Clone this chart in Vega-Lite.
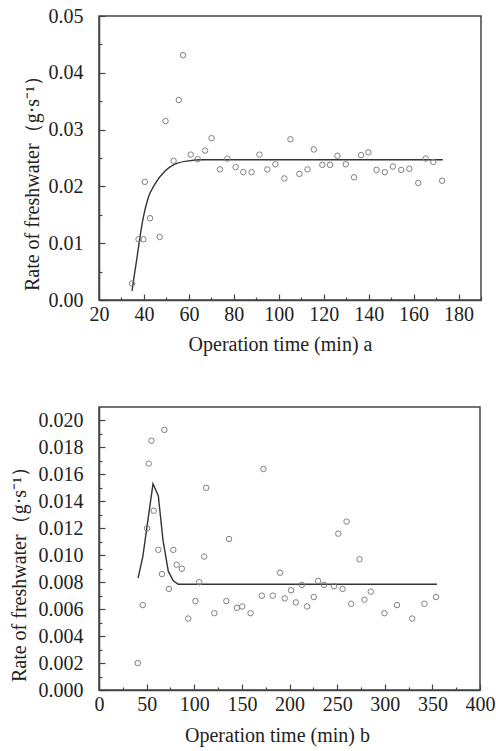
{
  "$schema": "https://vega.github.io/schema/vega-lite/v6.json",
  "padding": {"left": 8, "top": 5, "right": 5, "bottom": 5},
  "background": "white",
  "spacing": 107,
  "bounds": "flush",
  "config": {
    "view": {"stroke": "#444", "strokeWidth": 1.5},
    "axis": {
      "grid": false,
      "domainColor": "#444",
      "domainWidth": 1.5,
      "tickColor": "#444",
      "tickWidth": 1.2,
      "labelFont": "Liberation Serif",
      "labelFontSize": 20,
      "labelColor": "#222",
      "titleFont": "Liberation Serif",
      "titleFontSize": 20,
      "titleFontWeight": "normal",
      "titleColor": "#222",
      "labelOverlap": false,
      "labelFlush": false
    },
    "axisX": {"labelPadding": 10, "titlePadding": 7},
    "axisY": {"labelPadding": 22}
  },
  "datasets": {
    "a_pts": [
      {"t": 34.7, "r": 0.0029}, {"t": 37.6, "r": 0.0107}, {"t": 39.7, "r": 0.0107}, {"t": 40.4, "r": 0.0208},
      {"t": 42.7, "r": 0.0144}, {"t": 47.0, "r": 0.0111}, {"t": 49.6, "r": 0.0315}, {"t": 53.2, "r": 0.0245},
      {"t": 55.5, "r": 0.0352}, {"t": 57.4, "r": 0.0431}, {"t": 60.8, "r": 0.0256}, {"t": 63.9, "r": 0.0248},
      {"t": 67.2, "r": 0.0263}, {"t": 70.1, "r": 0.0285}, {"t": 73.8, "r": 0.0230}, {"t": 77.1, "r": 0.0249},
      {"t": 80.8, "r": 0.0234}, {"t": 84.2, "r": 0.0225}, {"t": 87.9, "r": 0.0225}, {"t": 91.4, "r": 0.0256},
      {"t": 94.9, "r": 0.0230}, {"t": 98.5, "r": 0.0239}, {"t": 102.5, "r": 0.0214}, {"t": 105.2, "r": 0.0283},
      {"t": 109.2, "r": 0.0222}, {"t": 112.8, "r": 0.0230}, {"t": 115.6, "r": 0.0265}, {"t": 119.4, "r": 0.0238},
      {"t": 122.8, "r": 0.0238}, {"t": 126.1, "r": 0.0254}, {"t": 129.8, "r": 0.0239}, {"t": 133.5, "r": 0.0216},
      {"t": 136.6, "r": 0.0255}, {"t": 139.9, "r": 0.0260}, {"t": 143.5, "r": 0.0229}, {"t": 147.2, "r": 0.0225},
      {"t": 150.8, "r": 0.0235}, {"t": 154.5, "r": 0.0229}, {"t": 158.1, "r": 0.0231}, {"t": 162.1, "r": 0.0206},
      {"t": 165.4, "r": 0.0249}, {"t": 168.8, "r": 0.0243}, {"t": 172.7, "r": 0.0210}
    ],
    "a_fit": [
      {"t": 34.7, "r": 0.0016}, {"t": 35.5, "r": 0.0038}, {"t": 36.7, "r": 0.0069}, {"t": 38.2, "r": 0.0110},
      {"t": 39.7, "r": 0.0145}, {"t": 41.9, "r": 0.0180}, {"t": 44.9, "r": 0.0204}, {"t": 49.4, "r": 0.0227},
      {"t": 53.8, "r": 0.0239}, {"t": 59.8, "r": 0.0245}, {"t": 66.0, "r": 0.0247}, {"t": 173.0, "r": 0.0247}
    ],
    "b_pts": [
      {"t": 40.7, "r": 0.0020}, {"t": 46.0, "r": 0.0063}, {"t": 50.5, "r": 0.0120}, {"t": 52.2, "r": 0.0168},
      {"t": 55.0, "r": 0.0185}, {"t": 57.4, "r": 0.0133}, {"t": 62.3, "r": 0.0104}, {"t": 66.1, "r": 0.0086},
      {"t": 68.6, "r": 0.0193}, {"t": 73.4, "r": 0.0075}, {"t": 78.0, "r": 0.0104}, {"t": 81.5, "r": 0.0093},
      {"t": 87.0, "r": 0.0090}, {"t": 93.7, "r": 0.0053}, {"t": 101.3, "r": 0.0066}, {"t": 105.2, "r": 0.0080},
      {"t": 110.4, "r": 0.0099}, {"t": 112.5, "r": 0.0150}, {"t": 121.1, "r": 0.0057}, {"t": 133.7, "r": 0.0066},
      {"t": 136.5, "r": 0.0112}, {"t": 144.8, "r": 0.0061}, {"t": 150.4, "r": 0.0062}, {"t": 159.1, "r": 0.0057},
      {"t": 171.0, "r": 0.0070}, {"t": 172.6, "r": 0.0164}, {"t": 182.4, "r": 0.0070}, {"t": 190.1, "r": 0.0087},
      {"t": 195.0, "r": 0.0068}, {"t": 201.6, "r": 0.0074}, {"t": 206.7, "r": 0.0065}, {"t": 212.9, "r": 0.0078},
      {"t": 218.5, "r": 0.0062}, {"t": 225.5, "r": 0.0069}, {"t": 230.0, "r": 0.0081}, {"t": 236.2, "r": 0.0078},
      {"t": 246.7, "r": 0.0077}, {"t": 251.2, "r": 0.0116}, {"t": 255.7, "r": 0.0075}, {"t": 259.9, "r": 0.0125},
      {"t": 264.8, "r": 0.0064}, {"t": 273.5, "r": 0.0097}, {"t": 278.7, "r": 0.0067}, {"t": 285.3, "r": 0.0073},
      {"t": 299.6, "r": 0.0057}, {"t": 312.8, "r": 0.0063}, {"t": 328.8, "r": 0.0053}, {"t": 341.7, "r": 0.0064},
      {"t": 353.9, "r": 0.0069}
    ],
    "b_fit": [
      {"t": 41.0, "r": 0.0083}, {"t": 46.0, "r": 0.0099}, {"t": 56.7, "r": 0.0153}, {"t": 62.3, "r": 0.0144},
      {"t": 67.2, "r": 0.0111}, {"t": 72.8, "r": 0.0088}, {"t": 78.0, "r": 0.0081}, {"t": 83.2, "r": 0.00785},
      {"t": 354.8, "r": 0.00785}
    ]
  },
  "vconcat": [
    {
      "width": 382,
      "height": 284,
      "encoding": {
        "x": {
          "field": "t", "type": "quantitative",
          "scale": {"domain": [20, 190], "nice": false, "zero": false},
          "axis": {
            "title": "Operation time (min) a",
            "values": [20, 30, 40, 50, 60, 70, 80, 90, 100, 110, 120, 130, 140, 150, 160, 170, 180, 190],
            "labelExpr": "datum.value % 20 == 0 ? format(datum.value, 'd') : ''",
            "tickSize": {"condition": {"test": "datum.value % 20 == 0", "value": -6}, "value": -3},
            "titleX": 181
          }
        },
        "y": {
          "field": "r", "type": "quantitative",
          "scale": {"domain": [0, 0.05], "nice": false},
          "axis": {
            "title": "Rate of freshwater（g·s⁻¹）",
            "titlePadding": 6,
            "titleY": 162,
            "values": [0, 0.005, 0.01, 0.015, 0.02, 0.025, 0.03, 0.035, 0.04, 0.045, 0.05],
            "labelExpr": "round(datum.value * 1000) % 10 == 0 ? format(datum.value, '.2f') : ''",
            "tickSize": {"condition": {"test": "round(datum.value * 1000) % 10 == 0", "value": -6}, "value": -3}
          }
        }
      },
      "layer": [
        {
          "data": {"name": "a_fit"},
          "mark": {"type": "line", "color": "#333", "strokeWidth": 1.4, "interpolate": "monotone"}
        },
        {
          "data": {"name": "a_pts"},
          "mark": {"type": "point", "shape": "circle", "filled": false, "stroke": "#808080", "strokeWidth": 1, "size": 30, "opacity": 1}
        }
      ]
    },
    {
      "width": 381,
      "height": 283,
      "encoding": {
        "x": {
          "field": "t", "type": "quantitative",
          "scale": {"domain": [0, 400], "nice": false},
          "axis": {
            "title": "Operation time (min) b",
            "titlePadding": 8,
            "values": [0, 25, 50, 75, 100, 125, 150, 175, 200, 225, 250, 275, 300, 325, 350, 375, 400],
            "labelExpr": "datum.value % 50 == 0 ? format(datum.value, 'd') : ''",
            "tickSize": {"condition": {"test": "datum.value % 50 == 0", "value": -6}, "value": -3},
            "titleX": 178
          }
        },
        "y": {
          "field": "r", "type": "quantitative",
          "scale": {"domain": [0, 0.021], "nice": false},
          "axis": {
            "title": "Rate of freshwater（g·s⁻¹）",
            "titlePadding": 9,
            "titleY": 162,
            "values": [0, 0.001, 0.002, 0.003, 0.004, 0.005, 0.006, 0.007, 0.008, 0.009, 0.01, 0.011, 0.012, 0.013, 0.014, 0.015, 0.016, 0.017, 0.018, 0.019, 0.02],
            "labelExpr": "round(datum.value * 1000) % 2 == 0 ? format(datum.value, '.3f') : ''",
            "tickSize": {"condition": {"test": "round(datum.value * 1000) % 2 == 0", "value": -6}, "value": -3}
          }
        }
      },
      "layer": [
        {
          "data": {"name": "b_fit"},
          "mark": {"type": "line", "color": "#333", "strokeWidth": 1.4}
        },
        {
          "data": {"name": "b_pts"},
          "mark": {"type": "point", "shape": "circle", "filled": false, "stroke": "#808080", "strokeWidth": 1, "size": 30, "opacity": 1}
        }
      ]
    }
  ]
}
